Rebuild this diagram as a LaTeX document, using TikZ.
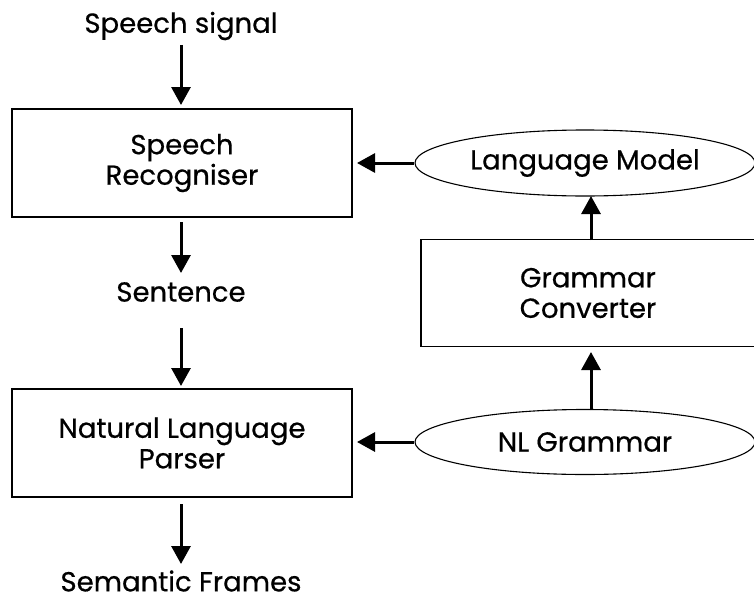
\documentclass[tikz,border=0pt]{standalone}
\usepackage{fontspec}
\setmainfont{Poppins}[FakeBold=0.6]
\usetikzlibrary{arrows.meta,shapes.geometric}
\begin{document}
\begin{tikzpicture}[x=1pt,y=-1pt,
  every node/.style={font=\fontsize{27.5}{30.5}\selectfont, align=center, inner sep=0pt},
  procbox/.style={draw, line width=1.1pt, rectangle},
  store/.style={draw, line width=1.1pt, ellipse},
  flow/.style={line width=3pt, -{Triangle[length=18pt,width=19pt]}}]
\useasboundingbox (0,0) rectangle (754,602);
% left column
\node (sig) at (181,26) {Speech signal};
\node[procbox, minimum width=340pt, minimum height=108pt] (rec) at (182,163) {Speech\\Recogniser};
\node (sent) at (181,292) {Sentence};
\node[procbox, minimum width=340pt, minimum height=108pt] (nlp) at (182,443) {Natural Language\\Parser};
\node (sem) at (181,581) {Semantic Frames};
% right column
\node[store, minimum width=340pt, minimum height=66pt] (lm) at (585,163) {Language Model};
\node[procbox, minimum width=334pt, minimum height=107pt] (gc) at (588,293) {Grammar\\Converter};
\node[store, minimum width=340pt, minimum height=65pt] (nlg) at (585,442) {NL Grammar};
% connectors
\coordinate (a1) at (181,45);  \coordinate (a2) at (181,105);
\coordinate (b1) at (181,222); \coordinate (b2) at (181,273);
\coordinate (c1) at (181,328); \coordinate (c2) at (181,386);
\coordinate (d1) at (181,504); \coordinate (d2) at (181,564);
\draw[flow] (a1) -- (a2);
\draw[flow] (b1) -- (b2);
\draw[flow] (c1) -- (c2);
\draw[flow] (d1) -- (d2);
\coordinate (e2) at (357,163);
\draw[flow] (lm.west) -- (e2);
\coordinate (f2) at (357,442);
\draw[flow] (nlg.west) -- (f2);
\coordinate (g1) at (591,240); \coordinate (g2) at (591,196);
\draw[flow] (g1) -- (g2);
\coordinate (h1) at (591,410); \coordinate (h2) at (591,352);
\draw[flow] (h1) -- (h2);
\end{tikzpicture}
\end{document}
